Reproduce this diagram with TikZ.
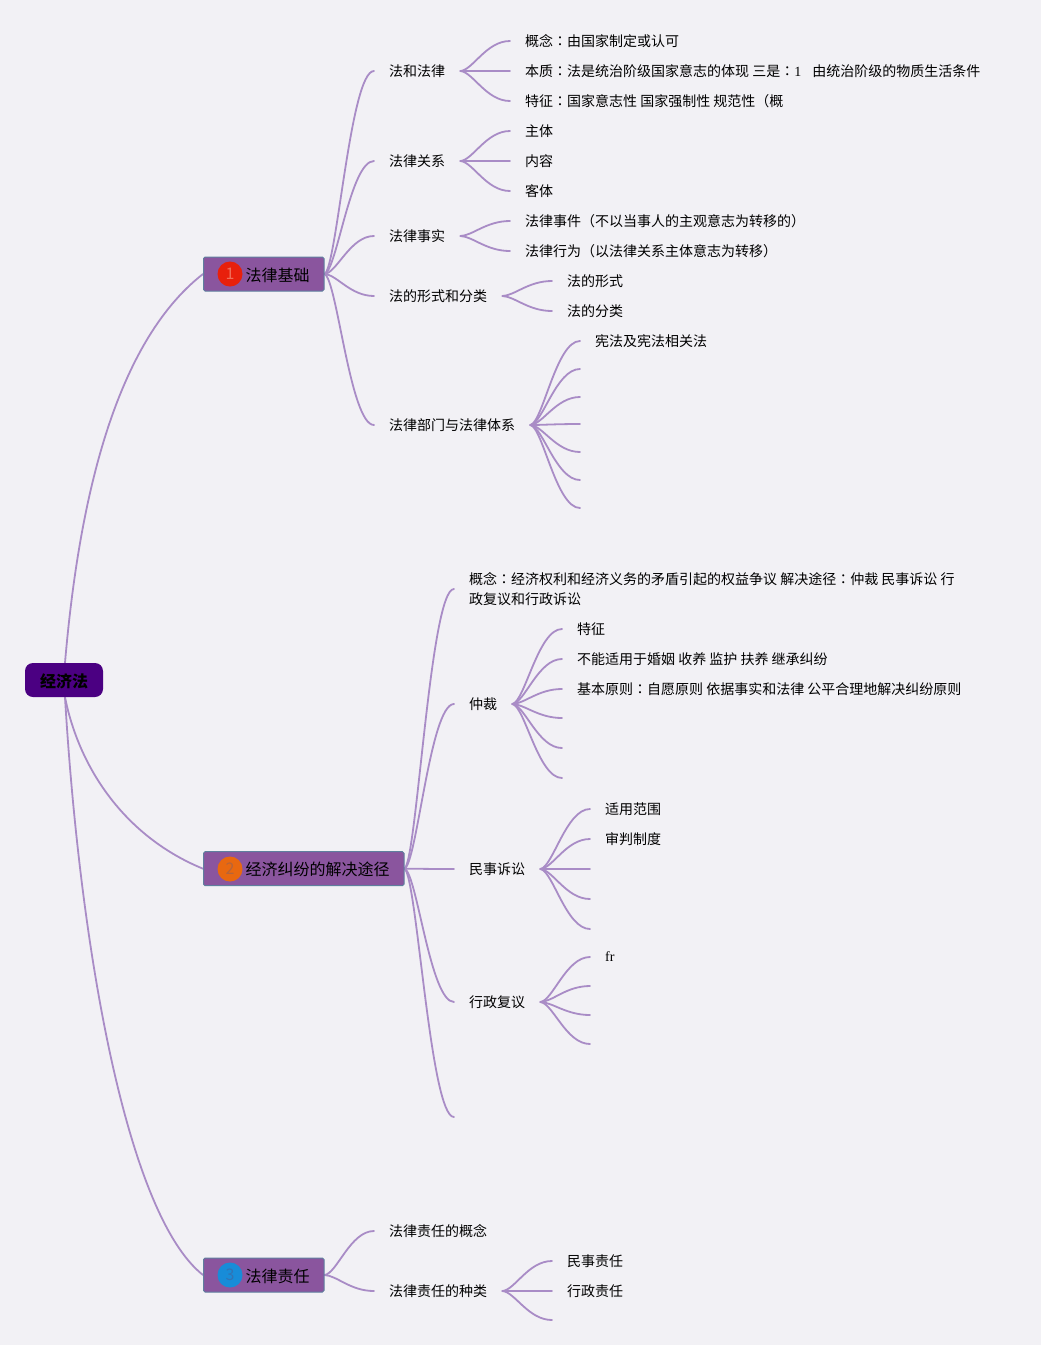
\documentclass[tikz,border=0pt]{standalone}
\usepackage{fontspec}
\usetikzlibrary{calc,backgrounds}
\setmainfont{Noto Sans CJK SC}
\newfontfamily\cjktc{Noto Sans CJK TC}
\newfontfamily\latf{Liberation Serif}
\newcommand{\cln}{{\cjktc ：}}
\definecolor{bgc}{HTML}{F2F1F5}
\definecolor{linkc}{HTML}{A98CC6}
\definecolor{boxc}{HTML}{8A559E}
\definecolor{boxb}{HTML}{5F7F9E}
\definecolor{rootc}{HTML}{4B0082}
\tikzset{
  x=1pt,y=-1pt,
  link/.style={draw=linkc,line width=1.8pt,line cap=round},
  leaf/.style={anchor=west,inner xsep=15pt,inner ysep=0pt,font=\fontsize{14}{20}\selectfont,align=left,text=black},
  topic/.style={anchor=west,draw=boxb,fill=boxc,line width=1pt,rounded corners=1.5pt,inner xsep=0pt,inner ysep=0pt,minimum height=34pt,font=\fontsize{16}{20}\selectfont,text=black},
  rootbox/.style={draw=none,fill=rootc,rounded corners=8pt,minimum width=78pt,minimum height=34pt,inner sep=0pt,font=\fontsize{16}{20}\selectfont\bfseries,text=black},
  badge/.style={circle,minimum size=25pt,inner sep=0pt,font=\fontsize{16}{16}\selectfont}
}
\newcommand{\lnk}[2]{\draw[link] let \p1=(#1),\p2=(#2) in (\p1) .. controls ({\x1+0.25*(\x2-\x1)},{\y1+0.03*(\y2-\y1)}) and ({\x1+0.52*(\x2-\x1)},{\y2}) .. (\p2);}
\newcommand{\tl}[1]{\raisebox{-1pt}[\height][\depth]{#1}}
\begin{document}
\begin{tikzpicture}
\useasboundingbox (0,0) rectangle (1041,1345);
\node[rootbox] (root) at (64,680) {\tl{经济法}};
\node[topic] (t1) at (203,274) {\hspace*{42pt}\tl{法律基础}\hspace*{14.5pt}};
\node[topic] (t2) at (203,868.7) {\hspace*{42pt}\tl{经济纠纷的解决途径}\hspace*{14.5pt}};
\node[topic] (t3) at (203,1275) {\hspace*{42pt}\tl{法律责任}\hspace*{14.5pt}};
\node[badge,fill={rgb,255:red,232;green,32;blue,12},text={rgb,255:red,240;green,110;blue,90}] (b1) at (230,274) {1};
\node[badge,fill={rgb,255:red,232;green,104;blue,16},text={rgb,255:red,180;green,100;blue,60}] (b2) at (230,869) {2};
\node[badge,fill={rgb,255:red,24;green,140;blue,216},text={rgb,255:red,50;green,115;blue,180}] (b3) at (230,1275) {3};
% topic 1
\node[leaf] (a1) at (374,71) {法和法律};
\node[leaf] (a11) at (510,41) {概念\cln 由国家制定或认可};
\node[leaf] (a12) at (510,71) {本质\cln 法是统治阶级国家意志的体现 三是\cln{\latf 1}\hspace{0.78em}由统治阶级的物质生活条件};
\node[leaf] (a13) at (510,101) {特征\cln 国家意志性 国家强制性 规范性（概};
\node[leaf] (a2) at (374,161) {法律关系};
\node[leaf] (a21) at (510,131) {主体};
\node[leaf] (a22) at (510,161) {内容};
\node[leaf] (a23) at (510,191) {客体};
\node[leaf] (a3) at (374,236) {法律事实};
\node[leaf] (a31) at (510,221) {法律事件（不以当事人的主观意志为转移的）};
\node[leaf] (a32) at (510,251) {法律行为（以法律关系主体意志为转移）};
\node[leaf] (a4) at (374,296) {法的形式和分类};
\node[leaf] (a41) at (552,281) {法的形式};
\node[leaf] (a42) at (552,311) {法的分类};
\node[leaf] (a5) at (374,425) {法律部门与法律体系};
\node[leaf] (a51) at (580,341) {宪法及宪法相关法};
\coordinate (a52) at (580,369);
\coordinate (a53) at (580,397);
\coordinate (a54) at (580,424);
\coordinate (a55) at (580,452);
\coordinate (a56) at (580,480);
\coordinate (a57) at (580,508);
% topic 2
\node[leaf] (c1) at (454,589) {概念\cln 经济权利和经济义务的矛盾引起的权益争议 解决途径\cln 仲裁 民事诉讼 行\\政复议和行政诉讼};
\node[leaf] (c2) at (454,704) {仲裁};
\node[leaf] (c21) at (562,629) {特征};
\node[leaf] (c22) at (562,659) {不能适用于婚姻 收养 监护 扶养 继承纠纷};
\node[leaf] (c23) at (562,689) {基本原则\cln 自愿原则 依据事实和法律 公平合理地解决纠纷原则};
\coordinate (c24) at (562,718);
\coordinate (c25) at (562,748);
\coordinate (c26) at (562,778);
\node[leaf] (c3) at (454,869) {民事诉讼};
\node[leaf] (c31) at (590,809) {适用范围};
\node[leaf] (c32) at (590,839) {审判制度};
\coordinate (c33) at (590,869);
\coordinate (c34) at (590,899);
\coordinate (c35) at (590,929);
\node[leaf] (c4) at (454,1002) {行政复议};
\node[leaf,font=\fontsize{14}{20}\latf] (c41) at (590,957) {fr};
\coordinate (c42) at (590,986);
\coordinate (c43) at (590,1015);
\coordinate (c44) at (590,1044);
\coordinate (c5) at (454,1117);
% topic 3
\node[leaf] (e1) at (374,1231) {法律责任的概念};
\node[leaf] (e2) at (374,1291) {法律责任的种类};
\node[leaf] (e21) at (552,1261) {民事责任};
\node[leaf] (e22) at (552,1291) {行政责任};
\coordinate (e23) at (552,1320);
\begin{scope}[on background layer]
\fill[bgc] (0,0) rectangle (1041,1345);
\draw[link] ($(root.north)+(1,0)$) .. controls (78,510) and (112,345) .. (t1.west);
\draw[link] ($(root.south)+(1,0)$) .. controls (80,772) and (128,838) .. (t2.west);
\draw[link] ($(root.south)+(1,0)$) .. controls (80,950) and (127,1215) .. (t3.west);
\foreach \ch in {a1,a2,a3,a4,a5} {\lnk{t1.east}{\ch.west}}
\foreach \ch in {c1,c2,c3,c4,c5} {\lnk{t2.east}{\ch.west}}
\foreach \ch in {e1,e2} {\lnk{t3.east}{\ch.west}}
\foreach \ch in {a11,a12,a13} {\lnk{a1.east}{\ch.west}}
\foreach \ch in {a21,a22,a23} {\lnk{a2.east}{\ch.west}}
\foreach \ch in {a31,a32} {\lnk{a3.east}{\ch.west}}
\foreach \ch in {a41,a42} {\lnk{a4.east}{\ch.west}}
\lnk{a5.east}{a51.west}
\foreach \ch in {a52,a53,a54,a55,a56,a57} {\lnk{a5.east}{\ch}}
\foreach \ch in {c21,c22,c23} {\lnk{c2.east}{\ch.west}}
\foreach \ch in {c24,c25,c26} {\lnk{c2.east}{\ch}}
\foreach \ch in {c31,c32} {\lnk{c3.east}{\ch.west}}
\foreach \ch in {c33,c34,c35} {\lnk{c3.east}{\ch}}
\lnk{c4.east}{c41.west}
\foreach \ch in {c42,c43,c44} {\lnk{c4.east}{\ch}}
\foreach \ch in {e21,e22} {\lnk{e2.east}{\ch.west}}
\lnk{e2.east}{e23}
\end{scope}
\end{tikzpicture}
\end{document}
